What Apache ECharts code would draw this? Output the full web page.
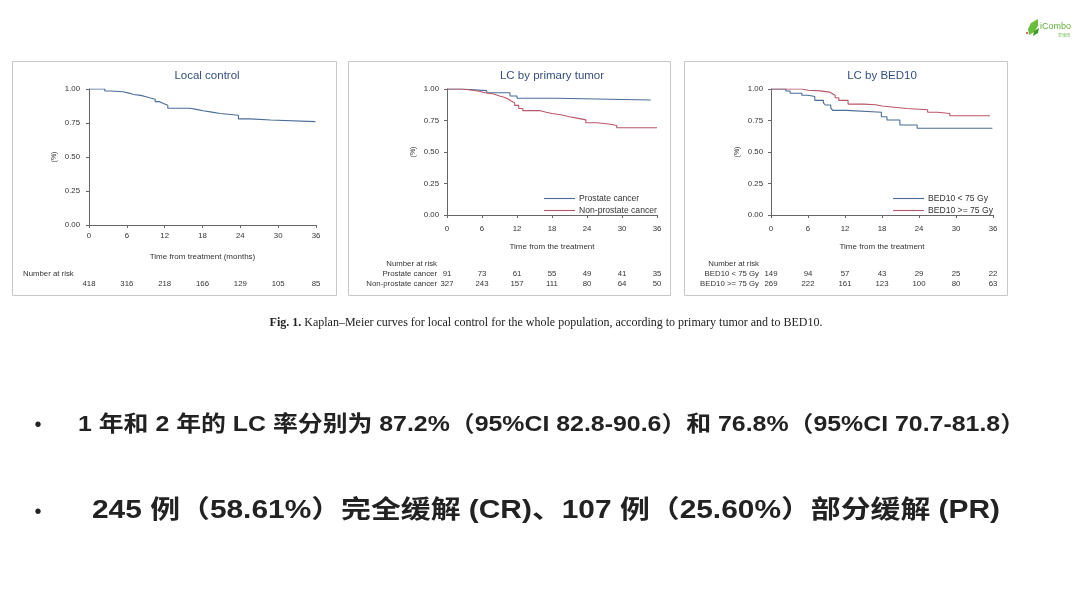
<!DOCTYPE html>
<html><head><meta charset="utf-8">
<script src="https://cdn.jsdelivr.net/npm/echarts@6/dist/echarts.min.js"></script>
<style>html,body{margin:0;padding:0;background:#fff}#c{width:1080px;height:607px}</style>
</head><body><div id="c"></div>
<script>
const ticks = [0, 6, 12, 18, 24, 30, 36];
const yTicks = [0, 0.25, 0.5, 0.75, 1];

const lcTime = [0, 2.5, 3.5, 5.4, 6.5, 7, 8.2, 8.9, 9.6, 10.5, 11.2, 11.8, 12.5, 16, 17, 18.1, 19.5, 20.8, 23.7, 25.5, 28.8, 35.9];
const lcSurv = [1, 0.985, 0.98, 0.968, 0.96, 0.953, 0.945, 0.936, 0.925, 0.907, 0.893, 0.88, 0.858, 0.85, 0.84, 0.83, 0.82, 0.807, 0.78, 0.772, 0.76, 0.76];

const prosTime = [0, 2.5, 6.8, 10.8, 12, 18.7, 34.9];
const prosSurv = [1, 0.987, 0.97, 0.944, 0.926, 0.913, 0.913];
const nonProsTime = [0, 2.5, 4.5, 5.7, 6.5, 8, 9, 9.8, 10.5, 11, 11.6, 12.3, 13, 16, 17, 18, 19.5, 21, 22.5, 23.8, 25.7, 28, 29.1, 36];
const nonProsSurv = [1, 0.99, 0.98, 0.97, 0.96, 0.945, 0.935, 0.92, 0.905, 0.89, 0.87, 0.845, 0.828, 0.815, 0.805, 0.795, 0.78, 0.767, 0.755, 0.732, 0.72, 0.71, 0.693, 0.693];

const bedLowTime = [0, 2.4, 3.1, 5, 6, 7.1, 8.5, 8.8, 9.7, 10, 12.3, 17.9, 18.8, 20.9, 23.7, 35.9];
const bedLowSurv = [1, 0.984, 0.966, 0.95, 0.94, 0.91, 0.89, 0.873, 0.85, 0.83, 0.815, 0.78, 0.754, 0.714, 0.688, 0.688];
const bedHighTime = [0, 5, 6, 8, 9.5, 9.9, 10.4, 11, 12.5, 15, 17, 18, 20, 22, 25.4, 27, 29, 35.5];
const bedHighSurv = [1, 0.99, 0.985, 0.975, 0.965, 0.95, 0.93, 0.91, 0.88, 0.875, 0.865, 0.855, 0.845, 0.835, 0.815, 0.805, 0.788, 0.788];

const riskAll = [418, 316, 218, 166, 129, 105, 85];
const riskProstate = [91, 73, 61, 55, 49, 41, 35];
const riskNonProstate = [327, 243, 157, 111, 80, 64, 50];
const riskBedLow = [149, 94, 57, 43, 29, 25, 22];
const riskBedHigh = [269, 222, 161, 123, 100, 80, 63];

const panelTitles = ['Local control', 'LC by primary tumor', 'LC by BED10'];
const xTitles = ['Time from treatment (months)', 'Time from the treatment', 'Time from the treatment'];
const legend2 = ['Prostate cancer', 'Non-prostate cancer'];
const legend3 = ['BED10 < 75 Gy', 'BED10 >= 75 Gy'];
const bullet1 = '1 年和 2 年的 LC 率分别为 87.2%（95%CI 82.8-90.6）和 76.8%（95%CI 70.7-81.8）';
const bullet2 = '245 例（58.61%）完全缓解 (CR)、107 例（25.60%）部分缓解 (PR)';
const caption = 'Kaplan–Meier curves for local control for the whole population, according to primary tumor and to BED10.';

const BLUE = '#4a6d98', RED = '#b9566a', AX = '#666', TX = '#333', TITLE = '#34507e';
const F = 'Liberation Sans, Arial, sans-serif';
const FS = 7.8;
const BF1 = 'bold 22px "Liberation Sans", "Noto Sans CJK SC", sans-serif';
const BF2 = 'bold 25px "Liberation Sans", "Noto Sans CJK SC", sans-serif';

function pairs(t, s) { return t.map((v, i) => [v, s[i]]); }
function measure(text, font) {
  const ctx = document.createElement('canvas').getContext('2d');
  ctx.font = font;
  return ctx.measureText(text).width;
}
const sx1 = 947 / measure(bullet1, BF1);
const sx2 = 908 / measure(bullet2, BF2);

const grids = [
  { left: 89, top: 89, width: 227, height: 136 },
  { left: 447, top: 89, width: 210, height: 126 },
  { left: 771, top: 89, width: 222, height: 126 }
];
const xOff = [4, 7, 7];
const yOff = [6, 5, 5];

const xAxes = [], yAxes = [];
grids.forEach((g, i) => {
  xAxes.push({
    gridIndex: i, type: 'value', position: 'bottom', min: 0, max: 36, interval: 6, offset: xOff[i],
    axisLine: { show: true, lineStyle: { color: AX, width: 1 } },
    axisTick: { show: true, length: 3, lineStyle: { color: AX } },
    splitLine: { show: false },
    axisLabel: { color: TX, fontSize: FS, fontFamily: F, margin: 3 },
    name: xTitles[i], nameLocation: 'middle', nameGap: i === 0 ? 24 : 21,
    nameTextStyle: { color: TX, fontSize: 8, fontFamily: F }
  });
  yAxes.push({
    gridIndex: i, type: 'value', position: 'left', min: 0, max: 1, interval: 0.25, offset: yOff[i],
    axisLine: { show: true, lineStyle: { color: AX, width: 1 } },
    axisTick: { show: true, length: 3, lineStyle: { color: AX } },
    splitLine: { show: false },
    axisLabel: { color: TX, fontSize: FS, fontFamily: F, margin: 3, formatter: v => v.toFixed(2) },
    name: '(%)', nameLocation: 'middle', nameRotate: 90, nameGap: 25,
    nameTextStyle: { color: TX, fontSize: 7, fontFamily: F }
  });
});
function riskAxis(gi, arr, off) {
  return {
    gridIndex: gi, type: 'value', position: 'bottom', min: 0, max: 36, interval: 6, offset: off,
    axisLine: { show: false }, axisTick: { show: false }, splitLine: { show: false },
    axisLabel: { color: TX, fontSize: FS, fontFamily: F, margin: 0,
      formatter: v => String(arr[Math.round(v / 6)]) }
  };
}
xAxes.push(riskAxis(0, riskAll, 55));
xAxes.push(riskAxis(1, riskProstate, 55));
xAxes.push(riskAxis(1, riskNonProstate, 65));
xAxes.push(riskAxis(2, riskBedLow, 55));
xAxes.push(riskAxis(2, riskBedHigh, 65));

function km(name, xi, yi, t, s, color) {
  return { name, type: 'line', xAxisIndex: xi, yAxisIndex: yi, step: 'end', symbol: 'none',
    data: pairs(t, s), lineStyle: { color, width: 1.1 }, silent: true, animation: false };
}

const txt = (x, y, text, extra) => ({ type: 'text', x, y, style: Object.assign({ text, fill: TX, font: FS + 'px ' + F, textVerticalAlign: 'middle' }, extra || {}) });
const LF = '8.6px ' + F;

const graphics = [
  { type: 'rect', shape: { x: 12.5, y: 61.5, width: 324, height: 234 }, style: { fill: 'none', stroke: '#c8c8c8', lineWidth: 1 } },
  { type: 'rect', shape: { x: 348.5, y: 61.5, width: 322, height: 234 }, style: { fill: 'none', stroke: '#c8c8c8', lineWidth: 1 } },
  { type: 'rect', shape: { x: 684.5, y: 61.5, width: 323, height: 234 }, style: { fill: 'none', stroke: '#c8c8c8', lineWidth: 1 } },
  { type: 'text', x: 207, y: 76, style: { text: panelTitles[0], fill: TITLE, font: '11.5px ' + F, textAlign: 'center', textVerticalAlign: 'middle' } },
  { type: 'text', x: 552, y: 76, style: { text: panelTitles[1], fill: TITLE, font: '11.5px ' + F, textAlign: 'center', textVerticalAlign: 'middle' } },
  { type: 'text', x: 882, y: 76, style: { text: panelTitles[2], fill: TITLE, font: '11.5px ' + F, textAlign: 'center', textVerticalAlign: 'middle' } },
  txt(23, 274, 'Number at risk'),
  txt(437, 264, 'Number at risk', { textAlign: 'right' }),
  txt(437, 274, legend2[0], { textAlign: 'right' }),
  txt(437, 284, legend2[1], { textAlign: 'right' }),
  txt(759, 264, 'Number at risk', { textAlign: 'right' }),
  txt(759, 274, legend3[0], { textAlign: 'right' }),
  txt(759, 284, legend3[1], { textAlign: 'right' }),
  { type: 'line', shape: { x1: 544, y1: 198.5, x2: 575, y2: 198.5 }, style: { stroke: BLUE, lineWidth: 1.1 } },
  { type: 'line', shape: { x1: 544, y1: 210.5, x2: 575, y2: 210.5 }, style: { stroke: RED, lineWidth: 1.1 } },
  txt(579, 198.5, legend2[0], { font: LF }),
  txt(579, 210.5, legend2[1], { font: LF }),
  { type: 'line', shape: { x1: 893, y1: 198.5, x2: 924, y2: 198.5 }, style: { stroke: BLUE, lineWidth: 1.1 } },
  { type: 'line', shape: { x1: 893, y1: 210.5, x2: 924, y2: 210.5 }, style: { stroke: RED, lineWidth: 1.1 } },
  txt(928, 198.5, legend3[0], { font: LF }),
  txt(928, 210.5, legend3[1], { font: LF }),
  { type: 'text', x: 546, y: 323, style: { text: '{b|Fig. 1.} ' + caption, textAlign: 'center', textVerticalAlign: 'middle',
      rich: { b: { fontWeight: 'bold', fontFamily: 'Liberation Serif, serif', fontSize: 12, fill: '#222' } },
      fill: '#222', font: '12px Liberation Serif, serif' } },
  { type: 'text', x: 38, y: 425, style: { text: '•', fill: '#222', font: '20px ' + F, textAlign: 'center', textVerticalAlign: 'middle' } },
  { type: 'text', x: 78, y: 425, scaleX: sx1, style: { text: bullet1, fill: '#222', font: BF1, textVerticalAlign: 'middle' } },
  { type: 'text', x: 38, y: 512, style: { text: '•', fill: '#222', font: '20px ' + F, textAlign: 'center', textVerticalAlign: 'middle' } },
  { type: 'text', x: 92, y: 511, scaleX: sx2, style: { text: bullet2, fill: '#222', font: BF2, textVerticalAlign: 'middle' } },
  { type: 'polygon', shape: { points: [[1029, 35], [1028, 29], [1031, 23], [1038, 19], [1038, 26], [1034, 32]] }, style: { fill: '#6abf3a' } },
  { type: 'polygon', shape: { points: [[1033, 36], [1034, 31], [1039, 28], [1038, 33]] }, style: { fill: '#3f9a2a' } },
  { type: 'circle', shape: { cx: 1027, cy: 33, r: 1 }, style: { fill: '#e03030' } },
  { type: 'text', x: 1040, y: 27, style: { text: 'iCombo', fill: '#5fb03a', font: '9px ' + F, textVerticalAlign: 'middle' } },
  { type: 'text', x: 1058, y: 35, style: { text: '爱康博', fill: '#7cc060', font: '4px Noto Sans CJK SC, sans-serif', textVerticalAlign: 'middle' } }
];

const chart = echarts.init(document.getElementById('c'), null, { renderer: 'canvas' });
chart.setOption({
  animation: false,
  backgroundColor: '#fff',
  grid: grids,
  xAxis: xAxes,
  yAxis: yAxes,
  series: [
    km('Local control', 0, 0, lcTime, lcSurv, BLUE),
    km(legend2[0], 1, 1, prosTime, prosSurv, BLUE),
    km(legend2[1], 1, 1, nonProsTime, nonProsSurv, RED),
    km(legend3[0], 2, 2, bedLowTime, bedLowSurv, BLUE),
    km(legend3[1], 2, 2, bedHighTime, bedHighSurv, RED)
  ],
  graphic: graphics
});
</script></body></html>
